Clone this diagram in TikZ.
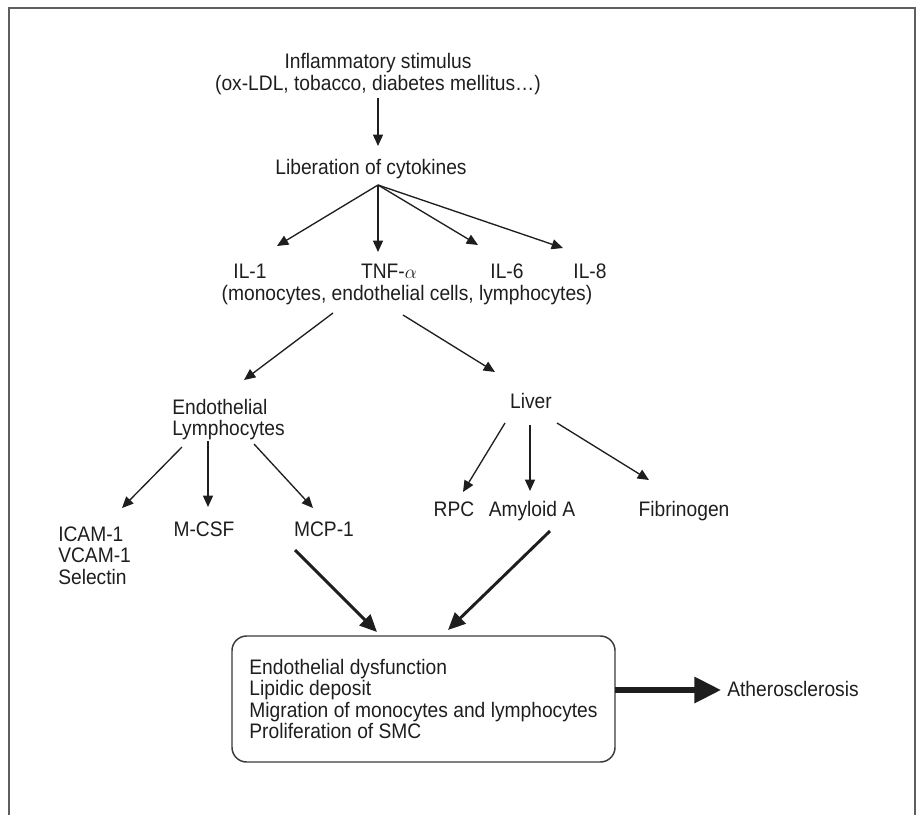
\documentclass[tikz,border=0pt]{standalone}
\usepackage{fontspec}
\setmainfont{Liberation Sans}[FakeStretch=0.915]
\usetikzlibrary{arrows.meta}
\definecolor{ink}{HTML}{1E1E1E}
\definecolor{framec}{HTML}{5F5F5F}
\definecolor{boxc}{HTML}{3A3A3A}
\begin{document}
\begin{tikzpicture}[x=0.75pt,y=-0.75pt,
  txt/.style={inner sep=0pt, text=ink, font=\fontsize{15.75pt}{16.5pt}\selectfont},
  txtl/.style={txt, align=left, font=\fontsize{15.75pt}{16pt}\selectfont},
  arr/.style={draw=ink, line width=1pt, -{Triangle[length=8.5pt,width=7.5pt]}},
  thickarr/.style={draw=ink, line width=2.2pt, -{Triangle[length=13pt,width=11.5pt]}},
  bigarr/.style={draw=ink, line width=4pt, -{Triangle[length=20pt,width=19pt]}},
  framest/.style={draw=framec, line width=1.5pt},
  boxst/.style={draw=boxc, line width=1.1pt, rounded corners=11pt,
    minimum width=287.25pt, minimum height=94.5pt, inner sep=0pt,
    align=left, text=ink, font=\fontsize{15.75pt}{16pt}\selectfont}]
\useasboundingbox (0,0) rectangle (917,814);
% outer frame (open at the bottom)
\draw[framest] (9,816) -- (9,8) -- (915,8) -- (915,816);

% texts
\node[txt, align=center, anchor=north] (stim) at (378,52.7)
  {Inflammatory stimulus\\(ox-LDL, tobacco, diabetes mellitus…)};
\node[txt, anchor=base] (lib) at (371,174) {Liberation of cytokines};
\node[txt, anchor=base] (il1) at (250,278) {IL-1};
\node[txt, anchor=base] (tnf) at (389,278) {TNF-$\alpha$};
\node[txt, anchor=base] (il6) at (507,278) {IL-6};
\node[txt, anchor=base] (il8) at (590,278) {IL-8};
\node[txt, anchor=base] (cells) at (407,300) {(monocytes, endothelial cells, lymphocytes)};
\node[txtl, anchor=north west] (endo) at (172,398.7) {Endothelial\\Lymphocytes};
\node[txt, anchor=base] (liver) at (531,408) {Liver};
\node[txtl, anchor=north west] (icam) at (58,526.7) {ICAM-1\\VCAM-1\\Selectin};
\node[txt, anchor=base] (mcsf) at (204,536) {M-CSF};
\node[txt, anchor=base] (mcp) at (324,536) {MCP-1};
\node[txt, anchor=base] (rpc) at (454,516) {RPC};
\node[txt, anchor=base] (amy) at (532,516) {Amyloid A};
\node[txt, anchor=base] (fib) at (684,516) {Fibrinogen};
\node[boxst] (box) at (423.5,699)
  {Endothelial dysfunction\\Lipidic deposit\\Migration of monocytes and lymphocytes\\Proliferation of SMC};
\node[txt, anchor=base] (ath) at (793,696) {Atherosclerosis};

% connector end points
\coordinate (stimOut) at (378,98);
\coordinate (libIn) at (378,146);
\coordinate (libOut) at (378,185);
\coordinate (il1In) at (277,246);
\coordinate (tnfIn) at (378,252);
\coordinate (il6In) at (478,245);
\coordinate (il8In) at (563,248);
\coordinate (cellsOutL) at (333,313);
\coordinate (cellsOutR) at (403,315);
\coordinate (endoIn) at (244,380);
\coordinate (liverIn) at (495,372);
\coordinate (endoOutA) at (182,447);
\coordinate (endoOutB) at (208,441);
\coordinate (endoOutC) at (254,444);
\coordinate (icamIn) at (122,508);
\coordinate (mcsfIn) at (208,507);
\coordinate (mcpIn) at (313,508);
\coordinate (liverOutA) at (505,423);
\coordinate (liverOutB) at (530,425);
\coordinate (liverOutC) at (557,423);
\coordinate (rpcIn) at (463,492);
\coordinate (amyIn) at (530,491);
\coordinate (fibIn) at (649,480);
\coordinate (mcpOut) at (295,550);
\coordinate (amyOut) at (550,531);
\coordinate (boxInL) at (377,632);
\coordinate (boxInR) at (448,630);
\coordinate (boxOut) at (615,690);
\coordinate (athIn) at (721,690);

% connectors
\draw[arr] (stimOut) -- (libIn);
\draw[arr] (libOut) -- (il1In);
\draw[arr] (libOut) -- (tnfIn);
\draw[arr] (libOut) -- (il6In);
\draw[arr] (libOut) -- (il8In);
\draw[arr] (cellsOutL) -- (endoIn);
\draw[arr] (cellsOutR) -- (liverIn);
\draw[arr] (endoOutA) -- (icamIn);
\draw[arr] (endoOutB) -- (mcsfIn);
\draw[arr] (endoOutC) -- (mcpIn);
\draw[arr] (liverOutA) -- (rpcIn);
\draw[arr] (liverOutB) -- (amyIn);
\draw[arr] (liverOutC) -- (fibIn);
\draw[thickarr] (mcpOut) -- (boxInL);
\draw[thickarr] (amyOut) -- (boxInR);
\draw[bigarr] (boxOut) -- (athIn);
\end{tikzpicture}
\end{document}
